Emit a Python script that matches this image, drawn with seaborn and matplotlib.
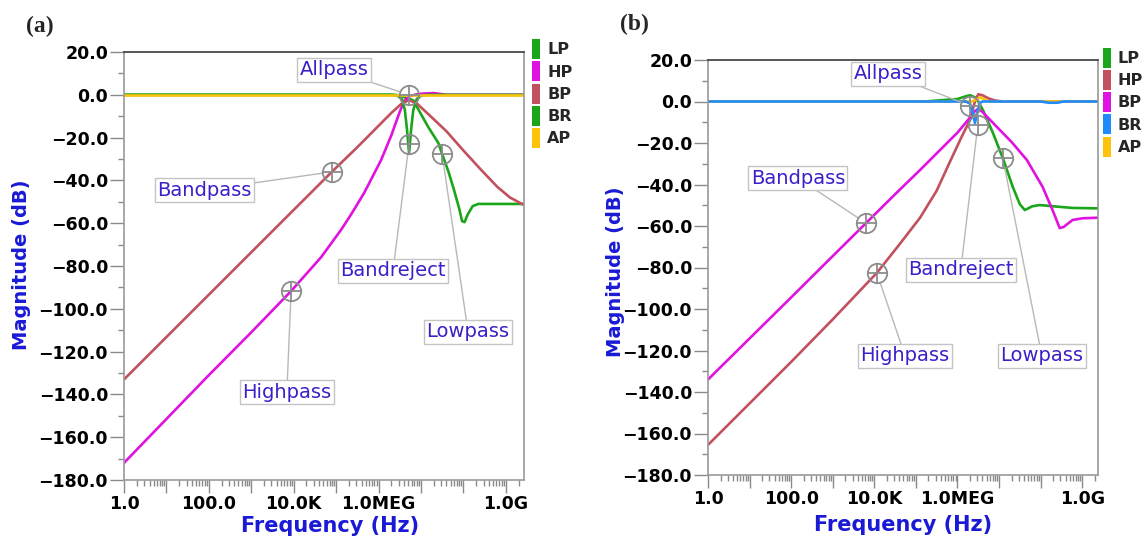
import matplotlib
matplotlib.use("Agg")
import matplotlib.pyplot as plt
import pandas as pd
import seaborn as sns
from matplotlib.patches import Patch
from matplotlib.ticker import FixedLocator, FixedFormatter, NullFormatter, LogLocator

# ---------------- data ----------------
# Panel (a)
lp_a_f = [1, 2.51e6, 3.55e6, 5.01e6, 6.61e6, 1.48e7, 2.57e7, 3.16e7, 4.47e7, 6.03e7,
          7.94e7, 9.33e7, 1.07e8, 1.26e8, 1.66e8, 2.24e8, 2.69e9]
lp_a_db = [0, 0, -0.7, -1.8, -2.6, -15, -22.5, -27.7, -36, -44.5, -53, -59, -59.5, -56, -52, -51, -51]

hp_a_f = [1, 10, 100, 1e3, 8.71e3, 4.47e4, 1.32e5, 2.24e5, 4.57e5, 1.15e6, 2.0e6, 3.16e6,
          3.98e6, 5.25e6, 7.08e6, 1e7, 2.0e7, 3.98e7, 2.69e9]
hp_a_db = [-172, -151.5, -131, -111, -91.7, -75.8, -63, -56, -45.9, -30.5, -19, -8, -3, -0.8,
           0, 0.5, 0.8, 0, 0]

bp_a_f = [1, 10, 100, 1e3, 1e4, 7.94e4, 3.16e5, 1e6, 2.0e6, 3.55e6, 5.25e6, 7.94e6, 1.58e7,
          3.98e7, 1e8, 2.63e8, 6.31e8, 1.26e9, 2.69e9]
bp_a_db = [-133, -113.2, -93.4, -73.6, -53.8, -36, -24.5, -14.5, -8.5, -4, -2.5, -4, -9.5,
           -17, -26, -35.1, -43, -48, -51.5]

br_a_f = [1, 2.0e6, 2.82e6, 3.55e6, 4.17e6, 4.68e6, 5.25e6, 5.89e6, 6.61e6, 7.94e6, 1e7, 1.41e7, 2.69e9]
br_a_db = [0, 0, -0.5, -2, -7, -16, -27.2, -16, -7, -2, -0.5, 0, 0]

ap_a_f = [1, 2.69e9]
ap_a_db = [0, 0]

# Panel (b)
lp_b_f = [1, 1.58e5, 3.98e5, 1e6, 1.58e6, 2.0e6, 2.63e6, 3.16e6, 4.07e6, 7.08e6, 1.23e7,
          2.14e7, 3.16e7, 4.17e7, 6.31e7, 9.55e7, 2.0e8, 5.89e8, 2.4e9]
lp_b_db = [0, 0, 0.6, 1.2, 2.5, 3, 2, 0, -4, -15, -27.2, -41.2, -49.5, -52.3, -50.5, -49.9,
           -50.5, -51.3, -51.5]

hp_b_f = [1, 10, 100, 1e3, 1.15e4, 3.98e4, 1.26e5, 3.16e5, 6.61e5, 1.26e6, 2.0e6, 2.63e6,
          3.16e6, 3.98e6, 5.62e6, 7.94e6, 1.26e7, 2.4e9]
hp_b_db = [-165.5, -145.5, -125.5, -105, -82.6, -69, -56, -43, -29, -17, -9, 0, 3.5, 3, 1.5,
           0.5, 0, 0]

bp_b_f = [1, 10, 100, 1e3, 6.31e3, 3.16e4, 1.26e5, 3.98e5, 1e6, 1.78e6, 2.51e6, 3.16e6, 3.98e6,
          8.91e6, 2.0e7, 4.68e7, 1.12e8, 2.0e8, 2.88e8, 3.55e8, 5.89e8, 1e9, 2.4e9]
bp_b_db = [-134, -114.2, -94.4, -74.5, -58.6, -44.7, -33, -23, -15, -9, -5, -3.5, -5, -12.3,
           -19.5, -28.2, -41.2, -53, -61, -60.5, -57.1, -56.3, -56]

br_b_f = [1, 1.58e6, 2.0e6, 2.4e6, 2.63e6, 2.95e6, 3.39e6, 3.98e6, 1e8, 1.58e8, 2.51e8, 3.55e8, 2.4e9]
br_b_db = [0, 0, -1, -6, -10.4, -6, -1, 0, 0, -0.6, -0.6, 0, 0]

ap_b_f = [1, 2.24e6, 2.82e6, 3.55e6, 4.47e6, 5.62e6, 2.4e9]
ap_b_db = [0, 0, 1, 2, 1, 0, 0]

# annotation points (marker on curve) and label positions
ann_labels = ["Allpass", "Bandpass", "Highpass", "Bandreject", "Lowpass"]
ann_a_f = [5.25e6, 7.94e4, 8.71e3, 5.25e6, 3.16e7]
ann_a_db = [0, -36, -91.7, -23, -27.7]
ann_b_f = [2.0e6, 6.31e3, 1.15e4, 3.09e6, 1.23e7]
ann_b_db = [-2, -58.6, -82.6, -11.3, -27.2]

# x tick labels
xtick_vals = [1, 10, 100, 1e3, 1e4, 1e5, 1e6, 1e7, 1e8, 1e9]
xtick_text = ["1.0", "", "100.0", "", "10.0K", "", "1.0MEG", "", "", "1.0G"]
ytick_vals = list(range(-180, 21, 20))
legend_names = ["LP", "HP", "BP", "BR", "AP"]

# ---------------- layout / style ----------------
label_pos_a = [(8.9e4, 11.6), (77.6, -44.5), (6.9e3, -139), (2.19e6, -82.3), (1.29e8, -110.8)]
label_pos_b = [(2.14e4, 13.3), (145, -36.9), (5.5e4, -122.6), (1.2e6, -81.2), (1.07e8, -122.6)]

GREEN = "#1aa61a"
MAGENTA = "#e012e0"
DUSTY = "#c2505e"
YELLOW = "#ffc20a"
BLUE = "#1e8cff"
AXBLUE = "#1a1ad6"
TXTBLUE = "#3a20c8"

sns.set_theme(style="ticks")
plt.rcParams["font.family"] = ["DejaVu Sans"]
plt.rcParams["axes.unicode_minus"] = True
plt.rcParams["xtick.top"] = False
plt.rcParams["ytick.right"] = False


def build_df(series):
    frames = [pd.DataFrame({"Frequency": f, "Magnitude": m, "Trace": n}) for n, (f, m) in series.items()]
    return pd.concat(frames, ignore_index=True)


def style_axes(ax, xmax):
    ax.set_xscale("log")
    ax.set_xlim(1, xmax)
    ax.set_ylim(-180, 20)
    ax.xaxis.set_major_locator(FixedLocator(xtick_vals))
    ax.xaxis.set_major_formatter(FixedFormatter(xtick_text))
    ax.xaxis.set_minor_locator(LogLocator(base=10, subs=tuple(range(2, 10)), numticks=30))
    ax.xaxis.set_minor_formatter(NullFormatter())
    ax.yaxis.set_major_locator(FixedLocator(ytick_vals))
    ax.yaxis.set_major_formatter(FixedFormatter([f"{v:.1f}".replace("-", "\u2212") for v in ytick_vals]))
    ax.yaxis.set_minor_locator(FixedLocator(list(range(-170, 20, 20))))
    ax.xaxis.set_ticks_position("bottom")
    ax.yaxis.set_ticks_position("left")
    ax.tick_params(axis="both", which="major", direction="out", color="#8a8a8a", width=1.0,
                   labelsize=12.5, labelcolor="black")
    ax.tick_params(axis="x", which="major", length=9, pad=1.5)
    ax.tick_params(axis="y", which="major", length=10, pad=1.5)
    ax.tick_params(axis="both", which="minor", direction="out", color="#8a8a8a", width=1.0, length=4)
    for lab in ax.get_xticklabels() + ax.get_yticklabels():
        lab.set_fontweight("bold")
    for s in ["left", "right", "bottom"]:
        ax.spines[s].set_color("#9a9a9a")
        ax.spines[s].set_linewidth(1.2)
    ax.spines["top"].set_color("#3a3a3a")
    ax.spines["top"].set_linewidth(1.2)
    ax.set_xlabel("Frequency (Hz)", color=AXBLUE, fontsize=15, fontweight="bold")
    ax.set_ylabel("Magnitude (dB)", color=AXBLUE, fontsize=14, fontweight="bold")


def annotate(ax, mf, mdb, pos):
    for text, x, y, (tx, ty) in zip(ann_labels, mf, mdb, pos):
        ax.annotate(text, xy=(x, y), xytext=(tx, ty), textcoords="data", ha="center", va="center",
                    fontsize=14, color=TXTBLUE, zorder=6, annotation_clip=False,
                    bbox=dict(boxstyle="square,pad=0.12", fc="white", ec="#c4c4c4", lw=1.0),
                    arrowprops=dict(arrowstyle="-", color="#b8b8b8", lw=1.0, shrinkA=0, shrinkB=7))
        ax.plot([x], [y], marker="o", ms=14, mfc="none", mec="#8c8c8c", mew=1.3, zorder=7)
        ax.plot([x], [y], marker="+", ms=14, mec="#8c8c8c", mew=1.3, zorder=7)


def add_legend(ax, colors, x_anchor):
    handles = [Patch(facecolor=c, edgecolor="none", label=n) for n, c in zip(legend_names, colors)]
    ax.legend(handles=handles, loc="upper left", bbox_to_anchor=(x_anchor, 1.03), frameon=False,
              handlelength=0.5, handleheight=1.55, handletextpad=0.45, labelspacing=0.14,
              borderaxespad=0, borderpad=0, prop={"weight": "bold", "size": 11.5})


fig = plt.figure(figsize=(11.48, 5.41), dpi=100)
ax_a = fig.add_axes([124 / 1148, 1 - 480 / 541, 400 / 1148, 428 / 541])
ax_b = fig.add_axes([708 / 1148, 1 - 475 / 541, 390 / 1148, 415 / 541])

# ----- panel (a)
df_a = build_df({"LP": (lp_a_f, lp_a_db), "HP": (hp_a_f, hp_a_db), "BP": (bp_a_f, bp_a_db),
                 "BR": (br_a_f, br_a_db), "AP": (ap_a_f, ap_a_db)})
pal_a = {"LP": GREEN, "HP": MAGENTA, "BP": DUSTY, "BR": GREEN, "AP": YELLOW}
ax_a.set_xscale("log")
sns.lineplot(data=df_a, x="Frequency", y="Magnitude", hue="Trace", hue_order=["LP", "HP", "BP", "BR", "AP"],
             palette=pal_a, ax=ax_a, legend=False, linewidth=1.9, estimator=None, errorbar=None, sort=False)
style_axes(ax_a, 2.69e9)
annotate(ax_a, ann_a_f, ann_a_db, label_pos_a)
add_legend(ax_a, [GREEN, MAGENTA, DUSTY, GREEN, YELLOW], 1.02)
ax_a.xaxis.set_label_coords(0.515, -0.108)
ax_a.xaxis.label.set_va("center")
ax_a.yaxis.set_label_coords(-0.255, 0.502)
ax_a.yaxis.label.set_va("center")

# ----- panel (b)
df_b = build_df({"LP": (lp_b_f, lp_b_db), "HP": (hp_b_f, hp_b_db), "BP": (bp_b_f, bp_b_db),
                 "BR": (br_b_f, br_b_db), "AP": (ap_b_f, ap_b_db)})
pal_b = {"LP": GREEN, "HP": DUSTY, "BP": MAGENTA, "BR": BLUE, "AP": YELLOW}
ax_b.set_xscale("log")
sns.lineplot(data=df_b, x="Frequency", y="Magnitude", hue="Trace", hue_order=["LP", "HP", "BP", "AP", "BR"],
             palette=pal_b, ax=ax_b, legend=False, linewidth=1.9, estimator=None, errorbar=None, sort=False)
style_axes(ax_b, 2.4e9)
annotate(ax_b, ann_b_f, ann_b_db, label_pos_b)
add_legend(ax_b, [GREEN, DUSTY, MAGENTA, BLUE, YELLOW], 1.012)
ax_b.xaxis.set_label_coords(0.50, -0.12)
ax_b.xaxis.label.set_va("center")
ax_b.yaxis.set_label_coords(-0.238, 0.49)
ax_b.yaxis.label.set_va("center")

fig.text(40 / 1148, 1 - 26 / 541, "(a)", family="Liberation Serif", fontweight="bold", fontsize=17,
         ha="center", va="center")
fig.text(634 / 1148, 1 - 24 / 541, "(b)", family="Liberation Serif", fontweight="bold", fontsize=17,
         ha="center", va="center")

fig.savefig("out.png", dpi=100, facecolor="white")
